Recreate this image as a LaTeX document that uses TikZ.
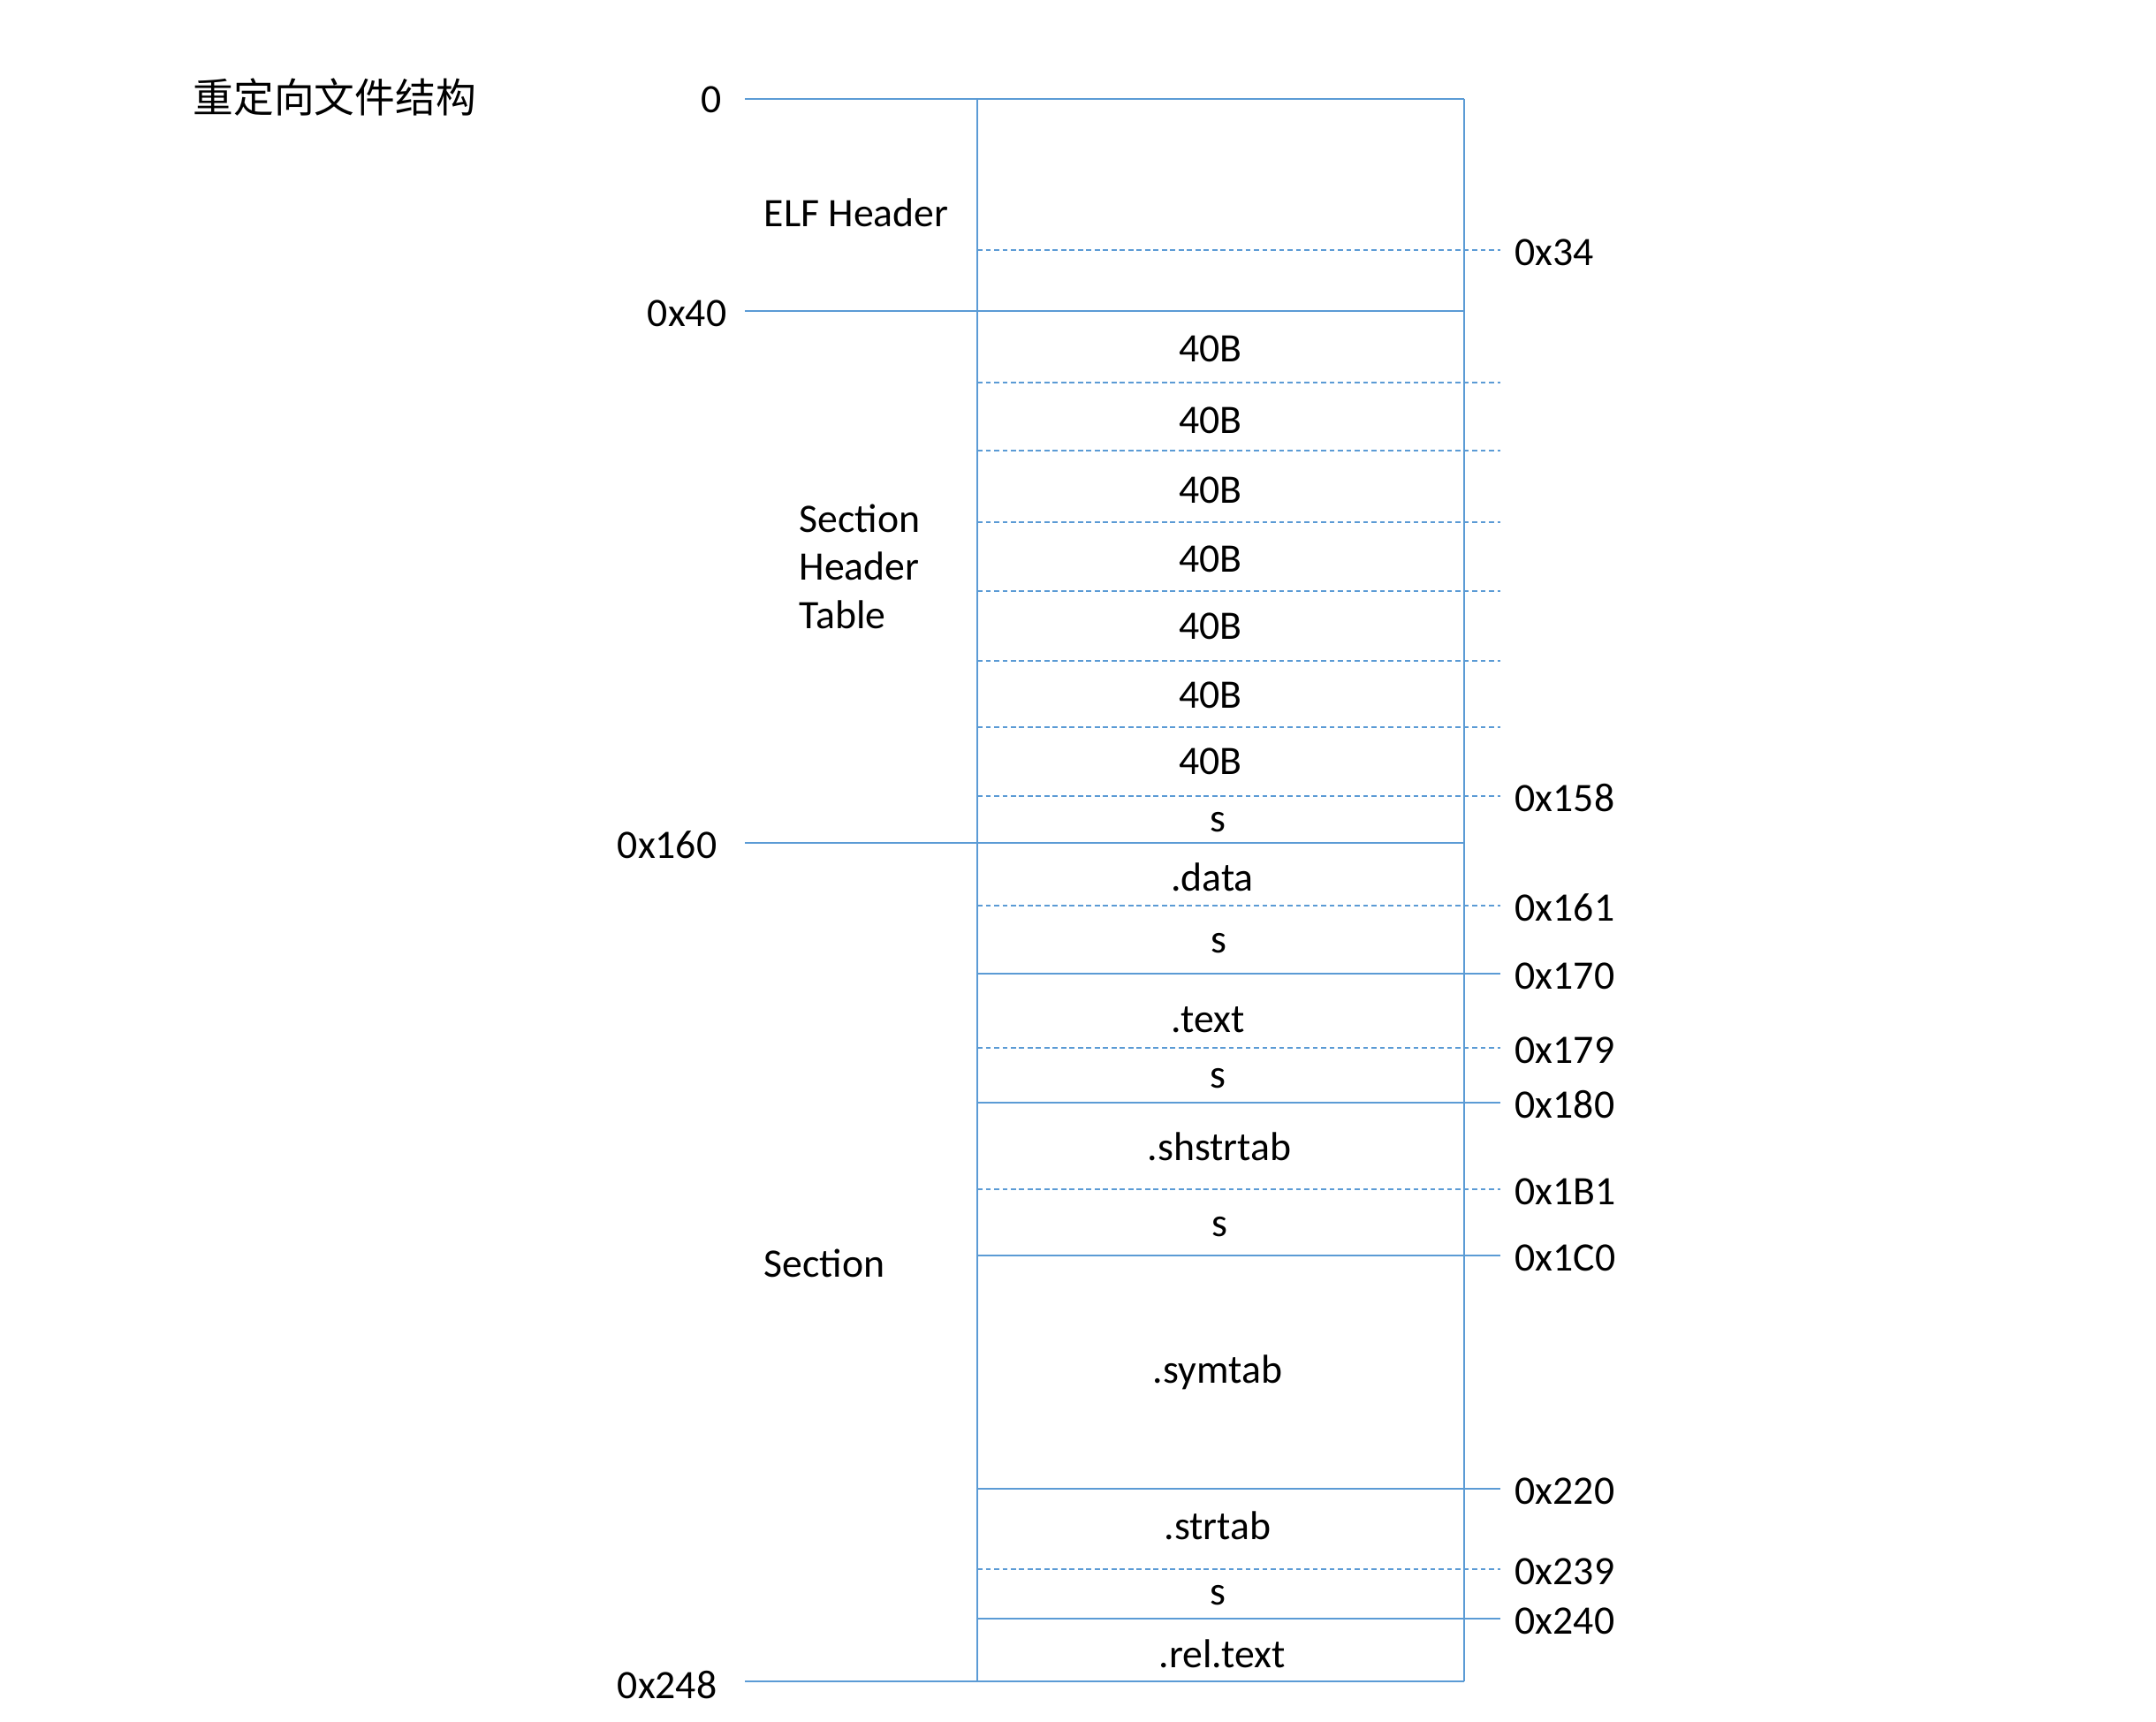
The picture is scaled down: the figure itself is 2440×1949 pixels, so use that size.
\documentclass[tikz,border=0pt]{standalone}
\usepackage{fontspec}
\setmainfont{Carlito}
\newfontfamily\cjk{Noto Sans CJK SC}
\usepackage{xcolor}
\definecolor{lineblue}{HTML}{5B9BD5}

\begin{document}
\begin{tikzpicture}[x=0.01cm,y=-0.01cm]
    \tikzstyle{M}=[draw=lineblue,line width=0.5pt]
    \tikzstyle{D}=[draw=lineblue,line width=0.5pt,dash pattern=on 1.6pt off 1.1pt]
    \tikzstyle{T}=[inner sep=0pt,yshift=-0.03cm,text height=1.5ex,text depth=0pt,font=\fontsize{13pt}{15.5pt}\selectfont]
    \useasboundingbox (0,0) rectangle (2440,1949);

    % Title
    \node [T,anchor=west,font=\cjk\fontsize{13pt}{15.5pt}\selectfont] (title) at (218,112) {重定向文件结构};

    % Box
    \coordinate (tl) at (1106,112);
    \coordinate (tr) at (1657,112);
    \coordinate (bl) at (1106,1903);
    \coordinate (br) at (1657,1903);
    \draw [M] (tl) -- (bl);
    \draw [M] (tr) -- (br);

    % Offsets on the left
    \foreach \y/\txt/\nm in {112/0/off0, 352/0x40/off40, 954/0x160/off160, 1903/0x248/off248} {
        \coordinate (\nm a) at (843,\y);
        \coordinate (\nm b) at (1657,\y);
        \draw [M] (\nm a) -- (\nm b);
    }
    \node [T,anchor=east] (n0)   at (817,112)  {0};
    \node [T,anchor=east] (n40)  at (823,354)  {0x40};
    \node [T,anchor=east] (n160) at (812,956)  {0x160};
    \node [T,anchor=east] (n248) at (812,1907) {0x248};

    % Parts
    \node [T,anchor=west] (elf) at (864,241) {ELF Header};
    \node [T,anchor=west,align=left,text height=,text depth=] (sht) at (904,638) {Section\\Header\\Table};
    \node [T,anchor=west] (sec) at (864,1430) {Section};

    % Section headers, 40B each
    \foreach \y [count=\i] in {433,510,591,669,748,823} {
        \coordinate (ha\i) at (1106,\y);
        \coordinate (hb\i) at (1698,\y);
        \draw [D] (ha\i) -- (hb\i);
    }

    % Offsets on the right
    \foreach \y/\txt/\sty [count=\i] in {283/0x34/D, 901/0x158/D, 1025/0x161/D, 1102/0x170/M,
        1186/0x179/D, 1248/0x180/M, 1346/0x1B1/D, 1421/0x1C0/M, 1685/0x220/M,
        1776/0x239/D, 1832/0x240/M} {
        \coordinate (ra\i) at (1106,\y);
        \coordinate (rb\i) at (1698,\y);
        \draw [\sty] (ra\i) -- (rb\i);
        \node [T,anchor=west] (addr\i) at (1714,\y+2) {\txt};
    }

    % Contents
    \foreach \y [count=\i] in {394,475,554,632,708,786,861} {
        \node [T] (hdr\i) at (1370,\y) {40B};
    }
    \node [T] (s1)       at (1378,926)  {s};
    \node [T] (data)     at (1372,993)  {.data};
    \node [T] (s2)       at (1379,1063) {s};
    \node [T] (text)     at (1367,1153) {.text};
    \node [T] (s3)       at (1378,1216) {s};
    \node [T] (shstrtab) at (1380,1298) {.shstrtab};
    \node [T] (s4)       at (1380,1384) {s};
    \node [T] (symtab)   at (1378,1550) {.symtab};
    \node [T] (strtab)   at (1378,1727) {.strtab};
    \node [T] (s5)       at (1378,1801) {s};
    \node [T] (reltext)  at (1383,1872) {.rel.text};
\end{tikzpicture}
\end{document}
